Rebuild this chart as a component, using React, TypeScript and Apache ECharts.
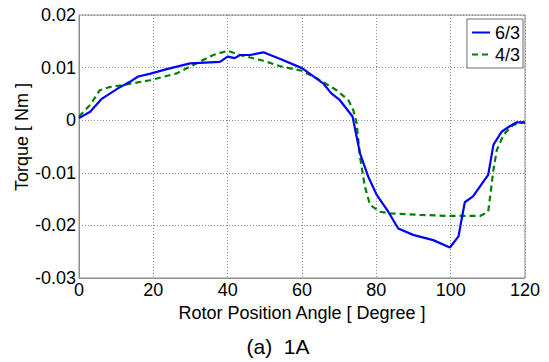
import React, { useEffect, useRef } from "react";
import * as echarts from "echarts";

const xTicks = [0, 20, 40, 60, 80, 100, 120];
const yTickLabels = ["-0.03", "-0.02", "-0.01", "0", "0.01", "0.02"];

const series63Name = "6/3";
const series43Name = "4/3";

const angle63 = [0, 3, 6, 10.6, 13.7, 15.9, 19, 23.6, 29.9, 37.9, 40, 41.9, 43.3, 46, 49.6, 54, 60, 65.7, 67.9, 70.2, 73.6, 75.6, 77.8, 80.1, 83.2, 85.9, 89.9, 95.3, 99.8, 102.1, 103.8, 106, 107.9, 110.1, 111.5, 113.7, 116, 117.8, 120];
const torque63 = [0.0004, 0.0016, 0.004, 0.0061, 0.0073, 0.0083, 0.0088, 0.0097, 0.0108, 0.0111, 0.0121, 0.0118, 0.0124, 0.0124, 0.0129, 0.0117, 0.0099, 0.007, 0.0051, 0.0038, 0.0007, -0.0063, -0.0107, -0.0142, -0.0174, -0.0206, -0.0218, -0.0228, -0.0242, -0.0221, -0.0156, -0.0145, -0.0126, -0.0104, -0.0047, -0.0022, -0.0011, -0.0004, -0.0004];

const angle43 = [0, 3, 5.6, 8.3, 11.9, 19.1, 26.3, 32.5, 36.1, 40, 43.3, 49.6, 54, 59.9, 63.9, 69.3, 72.5, 73.8, 74.7, 75.6, 76.9, 78.3, 81, 83.7, 91.7, 99.8, 107.9, 110.1, 111.5, 112.4, 114.2, 116.8, 120];
const torque43 = [0.0007, 0.0029, 0.0057, 0.0063, 0.0067, 0.0076, 0.0089, 0.0111, 0.0124, 0.0132, 0.0124, 0.0113, 0.0103, 0.0094, 0.008, 0.0057, 0.0038, 0.0019, -0.0006, -0.0069, -0.0126, -0.0161, -0.0174, -0.0177, -0.018, -0.0182, -0.0182, -0.0174, -0.0095, -0.0057, -0.0028, -0.0009, -0.0004];

const xTitle = "Rotor Position Angle [ Degree ]";
const yTitle = "Torque [ Nm ]";
const caption = "(a)  1A";

const FONT = "'Liberation Sans', Arial, sans-serif";

export default function App() {
  const ref = useRef<HTMLDivElement>(null);
  useEffect(() => {
    document.body.style.margin = "0";
    if (!ref.current) return;
    const chart = echarts.init(ref.current, null, { renderer: "svg" });
    const gridLine = { show: true, lineStyle: { color: "#8a8a8a", type: [1, 2] as any, width: 1 } };
    chart.setOption({
      animation: false,
      textStyle: { fontFamily: FONT },
      grid: { left: 79, right: 24, top: 15, bottom: 84, show: true, borderColor: "#8c8c8c", borderWidth: 1 },
      legend: {
        orient: "vertical",
        right: 26,
        top: 19,
        itemWidth: 18,
        itemHeight: 12,
        itemGap: 3,
        padding: [4, 3, 4, 4],
        borderColor: "#6e6e6e",
        borderWidth: 1,
        backgroundColor: "#fff",
        itemStyle: { opacity: 0 },
        textStyle: { fontSize: 18, color: "#000", fontFamily: FONT, lineHeight: 19 },
        data: [series63Name, series43Name],
      },
      xAxis: {
        type: "value",
        min: xTicks[0],
        max: xTicks[xTicks.length - 1],
        interval: 20,
        axisLine: { show: true, onZero: false, lineStyle: { color: "#8c8c8c" } },
        axisTick: { show: false },
        axisLabel: { fontSize: 18, color: "#000", margin: 3, fontFamily: FONT },
        splitLine: gridLine,
      },
      yAxis: {
        type: "value",
        min: -0.03,
        max: 0.02,
        interval: 0.01,
        axisLine: { show: true, onZero: false, lineStyle: { color: "#8c8c8c" } },
        axisTick: { show: false },
        axisLabel: {
          fontSize: 18,
          color: "#000",
          margin: 3,
          fontFamily: FONT,
          formatter: (v: number) => {
            const idx = Math.round((v + 0.03) / 0.01);
            return yTickLabels[idx] ?? "";
          },
        },
        splitLine: gridLine,
      },
      graphic: [
        {
          type: "text",
          x: 302,
          y: 313,
          style: { text: xTitle, fill: "#000", font: `18px ${FONT}`, textAlign: "center", textVerticalAlign: "middle" },
        },
        {
          type: "text",
          x: 22,
          y: 137,
          rotation: Math.PI / 2,
          style: { text: yTitle, fill: "#000", font: `18px ${FONT}`, textAlign: "center", textVerticalAlign: "middle" },
        },
        {
          type: "text",
          x: 278,
          y: 346,
          style: { text: caption, fill: "#000", font: `21px ${FONT}`, textAlign: "center", textVerticalAlign: "middle" },
        },
      ],
      series: [
        {
          name: series63Name,
          type: "line",
          symbol: "none",
          data: angle63.map((a, i) => [a, torque63[i]]),
          lineStyle: { color: "#0000ff", width: 2.2 },
          itemStyle: { color: "#0000ff" },
          z: 3,
        },
        {
          name: series43Name,
          type: "line",
          symbol: "none",
          data: angle43.map((a, i) => [a, torque43[i]]),
          lineStyle: { color: "#008000", width: 2.2, type: [6, 4] as any },
          itemStyle: { color: "#008000" },
          z: 2,
        },
      ],
    });
    return () => chart.dispose();
  }, []);
  return <div ref={ref} style={{ width: 549, height: 362 }} />;
}
